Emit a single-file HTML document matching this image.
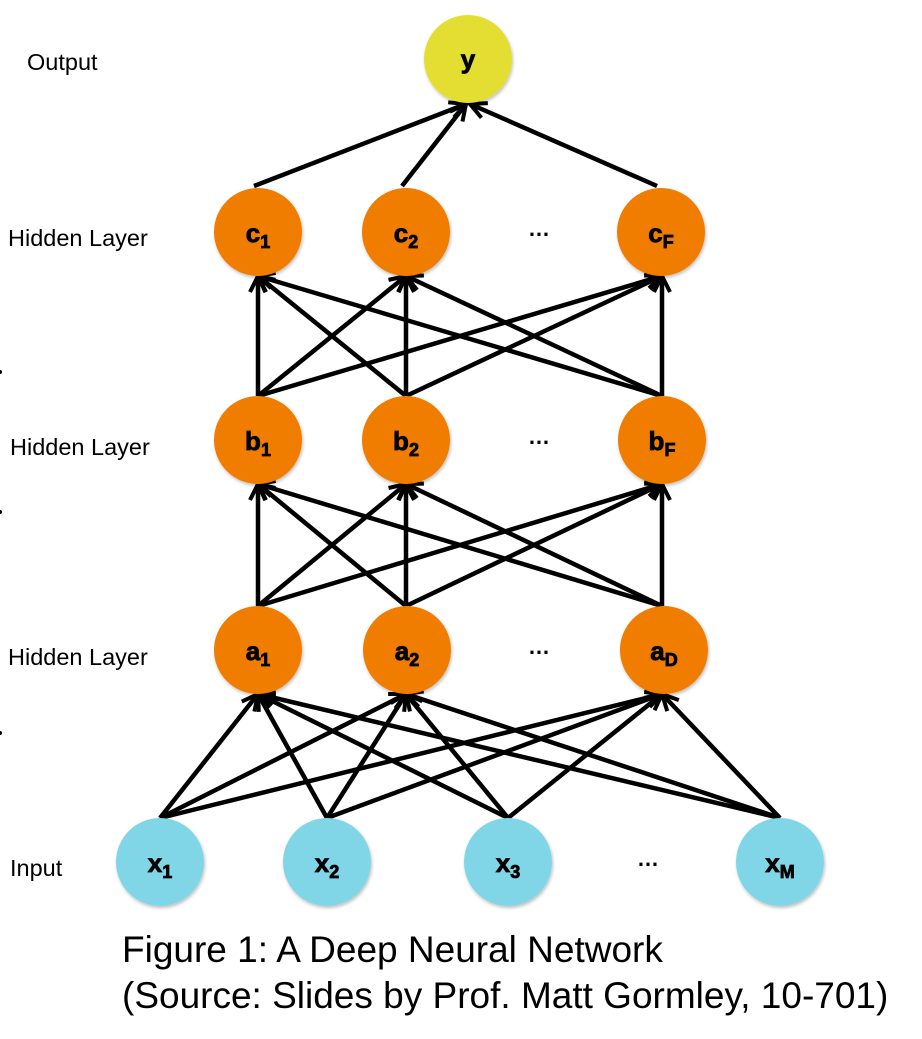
<!DOCTYPE html>
<html><head><style>
body{margin:0;background:#fff;width:922px;height:1039px;overflow:hidden}
svg{position:absolute;left:0;top:0}
</style></head><body>
<svg width="922" height="1039" viewBox="0 0 922 1039" font-family="Liberation Sans, sans-serif">
<defs>
<marker id="ah" markerWidth="20" markerHeight="20" refX="18" refY="10" orient="auto" markerUnits="userSpaceOnUse" viewBox="0 0 20 20">
<path d="M2,2 L18,10 L2,18" fill="none" stroke="#000" stroke-width="4"/>
</marker>
<filter id="sh" x="-20%" y="-20%" width="140%" height="140%"><feDropShadow dx="1" dy="2" stdDeviation="1.5" flood-color="#000" flood-opacity="0.25"/></filter>
</defs>
<g stroke="#000" stroke-width="4.5" marker-end="url(#ah)" fill="none">
<line x1="160" y1="818" x2="258" y2="694"/><line x1="160" y1="818" x2="406" y2="694"/><line x1="160" y1="818" x2="662" y2="694"/>
<line x1="327" y1="818" x2="258" y2="694"/><line x1="327" y1="818" x2="406" y2="694"/><line x1="327" y1="818" x2="662" y2="694"/>
<line x1="508" y1="818" x2="258" y2="694"/><line x1="508" y1="818" x2="406" y2="694"/><line x1="508" y1="818" x2="662" y2="694"/>
<line x1="780" y1="818" x2="258" y2="694"/><line x1="780" y1="818" x2="406" y2="694"/><line x1="780" y1="818" x2="662" y2="694"/>
<line x1="258" y1="606" x2="258" y2="484"/><line x1="258" y1="606" x2="406" y2="484"/><line x1="258" y1="606" x2="662" y2="484"/>
<line x1="406" y1="606" x2="258" y2="484"/><line x1="406" y1="606" x2="406" y2="484"/><line x1="406" y1="606" x2="662" y2="484"/>
<line x1="662" y1="606" x2="258" y2="484"/><line x1="662" y1="606" x2="406" y2="484"/><line x1="662" y1="606" x2="662" y2="484"/>
<line x1="258" y1="396" x2="258" y2="276"/><line x1="258" y1="396" x2="406" y2="276"/><line x1="258" y1="396" x2="662" y2="276"/>
<line x1="406" y1="396" x2="258" y2="276"/><line x1="406" y1="396" x2="406" y2="276"/><line x1="406" y1="396" x2="662" y2="276"/>
<line x1="662" y1="396" x2="258" y2="276"/><line x1="662" y1="396" x2="406" y2="276"/><line x1="662" y1="396" x2="662" y2="276"/>
<line x1="254" y1="186" x2="466" y2="104"/><line x1="402" y1="186" x2="466" y2="104"/><line x1="657" y1="186" x2="470" y2="104"/>
</g>
<g filter="url(#sh)">
<circle cx="468" cy="59" r="44" fill="#e4dd31"/>
<circle cx="258" cy="232" r="44" fill="#f07c05"/><circle cx="406" cy="232" r="44" fill="#f07c05"/><circle cx="661" cy="232" r="44" fill="#f07c05"/>
<circle cx="258" cy="440" r="44" fill="#f07c05"/><circle cx="406" cy="440" r="44" fill="#f07c05"/><circle cx="662" cy="440" r="44" fill="#f07c05"/>
<circle cx="258" cy="650" r="44" fill="#f07c05"/><circle cx="407" cy="650" r="44" fill="#f07c05"/><circle cx="664" cy="650" r="44" fill="#f07c05"/>
<circle cx="160" cy="862" r="44" fill="#80d6e6"/><circle cx="327" cy="862" r="44" fill="#80d6e6"/><circle cx="508" cy="862" r="44" fill="#80d6e6"/><circle cx="780" cy="862" r="44" fill="#80d6e6"/>
</g>
<g font-weight="900" font-size="26" fill="#000" text-anchor="middle" stroke="#000" stroke-width="0.8">
<text x="468" y="68">y</text>
<text x="258" y="242">c<tspan font-size="18" dy="6">1</tspan></text>
<text x="406" y="242">c<tspan font-size="18" dy="6">2</tspan></text>
<text x="661" y="242">c<tspan font-size="18" dy="6">F</tspan></text>
<text x="258" y="450">b<tspan font-size="18" dy="6">1</tspan></text>
<text x="406" y="450">b<tspan font-size="18" dy="6">2</tspan></text>
<text x="662" y="450">b<tspan font-size="18" dy="6">F</tspan></text>
<text x="258" y="660">a<tspan font-size="18" dy="6">1</tspan></text>
<text x="407" y="660">a<tspan font-size="18" dy="6">2</tspan></text>
<text x="664" y="660">a<tspan font-size="18" dy="6">D</tspan></text>
<text x="160" y="872">x<tspan font-size="18" dy="6">1</tspan></text>
<text x="327" y="872">x<tspan font-size="18" dy="6">2</tspan></text>
<text x="508" y="872">x<tspan font-size="18" dy="6">3</tspan></text>
<text x="780" y="872">x<tspan font-size="18" dy="6">M</tspan></text>
</g>
<g font-weight="bold" font-size="22" fill="#000" text-anchor="middle">
<text x="539" y="236">…</text><text x="539" y="444">…</text><text x="539" y="654">…</text><text x="648" y="866">…</text>
</g>
<g font-size="23.5" fill="#000">
<text x="27" y="70">Output</text>
<text x="8" y="246">Hidden Layer</text>
<text x="10" y="455">Hidden Layer</text>
<text x="8" y="665">Hidden Layer</text>
<text x="10" y="876">Input</text>
</g>
<circle cx="0" cy="372" r="2" fill="#000"/><circle cx="0" cy="512" r="2" fill="#000"/><circle cx="0" cy="733" r="2" fill="#000"/>
<g font-size="37" fill="#000">
<text x="122" y="962">Figure 1: A Deep Neural Network</text>
<text x="122" y="1008">(Source: Slides by Prof. Matt Gormley, 10-701)</text>
</g>
</svg>
</body></html>
